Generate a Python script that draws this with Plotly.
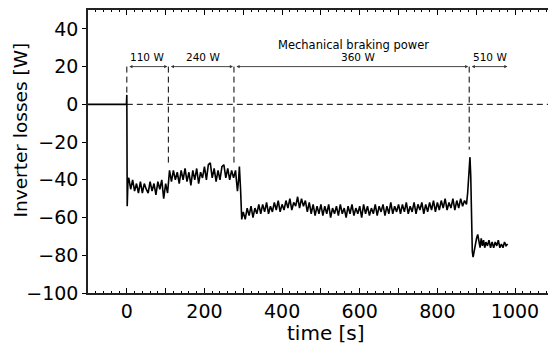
import plotly.graph_objects as go

# ---------------- data ----------------
lead_time = [-100, -1, 0, 1, 3]
lead_loss = [0, 0, 5, -54, -40]

seg1_loss = [-39, -45, -40, -46, -42, -47, -41, -47, -42, -45, -47, -41, -46, -42,
             -48, -41, -45, -40, -50, -42, -47]
seg1_start, seg1_step = 5, 5

seg2_loss = [-35, -41, -35, -40, -36, -42, -35, -40, -34, -41, -36, -43, -35, -40,
             -34, -42, -36, -39, -33, -40, -32, -31, -39, -34, -41, -35, -40, -33,
             -32, -39, -34, -40, -35, -39, -35, -46]
seg2_start, seg2_step = 110, 5

trans_time = [288, 290, 293, 296, 300]
trans_loss = [-40, -33, -45, -61, -57]

seg3_loss = [-61, -55, -59, -54, -60, -55, -58, -53,
             -58, -53, -57, -52, -58, -54, -57, -52, -56, -51, -57, -53,
             -56, -51, -55, -50, -56, -52, -54, -49,
             -55, -50, -54, -51,
             -57, -52, -58, -53, -59, -54, -58, -53,
             -59, -54, -58, -53, -60, -55, -58, -54, -59, -53, -58, -55, -60, -54,
             -58, -53, -59, -55, -58, -54, -60, -53, -58, -54, -59, -55, -58, -53,
             -59, -54, -57, -53, -59, -54, -58, -52, -58, -54, -57, -53,
             -58, -53, -57, -52, -58, -54, -57, -52, -58, -53, -56, -52, -58, -53,
             -57, -52, -56, -51, -57, -52,
             -56, -51, -55, -50, -56, -52, -55, -50, -56, -51, -55, -50, -54, -51,
             -53]
seg3_start, seg3_step = 305, 5

tail_time = [878, 880, 882, 884, 886, 888, 890, 892, 895, 898, 901, 904, 907, 910,
             913, 916, 919, 922, 925, 929, 933, 937, 941, 945, 949, 953, 957, 961,
             965, 969, 973, 977, 981]
tail_loss = [-47, -38, -30, -28, -38, -60, -78, -81, -77, -74, -71, -69, -73, -76,
             -71, -75, -72, -76, -73, -75, -72, -76, -73, -76, -73, -75, -72, -76,
             -74, -76, -73, -75, -74]

# phase boundaries and labels
boundaries = [0, 107, 276, 882, 983]
boundary_bottom = [5, -33, -31, -24]
phase_labels = ["110 W", "240 W", "360 W", "510 W"]
phase_label_x = [51, 195, 595, 935]
header_text = "Mechanical braking power"
header_x = 584

x_tickvals = [-100, 0, 100, 200, 300, 400, 500, 600, 700, 800, 900, 1000]
x_ticktext = ["", "0", "", "200", "", "400", "", "600", "", "800", "", "1000"]
y_tickvals = [-100, -80, -60, -40, -20, 0, 20, 40]

# ---------------- assemble ----------------
def seg_times(start, step, vals):
    return [start + step * i for i in range(len(vals))]

time = (lead_time + seg_times(seg1_start, seg1_step, seg1_loss)
        + seg_times(seg2_start, seg2_step, seg2_loss) + trans_time
        + seg_times(seg3_start, seg3_step, seg3_loss) + tail_time)
loss = lead_loss + seg1_loss + seg2_loss + trans_loss + seg3_loss + tail_loss

FONT = "DejaVu Sans"
XRANGE = [-100, 1085]
fig = go.Figure()
fig.add_trace(go.Scatter(x=time, y=loss, mode="lines",
                         line=dict(color="black", width=1.6), showlegend=False,
                         hoverinfo="skip"))
# carrier trace for the top (mirrored) axis
fig.add_trace(go.Scatter(x=[XRANGE[0]], y=[0], xaxis="x2", mode="lines",
                         line=dict(color="rgba(0,0,0,0)"), showlegend=False,
                         hoverinfo="skip"))

shapes = []
shapes.append(dict(type="line", xref="x", yref="y", x0=0, x1=1085, y0=0, y1=0,
                   line=dict(color="black", width=1, dash="6px,4px")))
for bx, by in zip(boundaries[:4], boundary_bottom):
    shapes.append(dict(type="line", xref="x", yref="y", x0=bx, x1=bx, y0=20, y1=by,
                       line=dict(color="black", width=1, dash="6px,4px")))

annotations = []
for i in range(4):
    annotations.append(dict(x=boundaries[i + 1], y=20, ax=boundaries[i], ay=20,
                            xref="x", yref="y", axref="x", ayref="y", text="",
                            showarrow=True, arrowhead=2, startarrowhead=2,
                            arrowside="end+start", arrowsize=0.7, arrowwidth=0.9,
                            arrowcolor="#333", standoff=1, startstandoff=1))
    annotations.append(dict(x=phase_label_x[i], y=25, xref="x", yref="y",
                            text=phase_labels[i], showarrow=False,
                            font=dict(family=FONT, size=10.5, color="black")))
annotations.append(dict(x=header_x, y=31.5, xref="x", yref="y", text=header_text,
                        showarrow=False, font=dict(family=FONT, size=11.5, color="black")))
annotations.append(dict(x=-0.1447, y=0.576, xref="paper", yref="paper",
                        text="Inverter losses [W]", textangle=-90, showarrow=False,
                        xanchor="center", yanchor="middle",
                        font=dict(family=FONT, size=18.5, color="black")))
annotations.append(dict(x=0.517, y=-0.141, xref="paper", yref="paper",
                        text="time [s]", showarrow=False, xanchor="center",
                        yanchor="middle", font=dict(family=FONT, size=20, color="black")))

minor_ticks = dict(tick0=0, dtick=20, ticks="inside", ticklen=2.5,
                   tickcolor="black", tickwidth=1, showgrid=False)

fig.update_layout(
    width=548, height=344,
    margin=dict(l=88, r=0, t=10, b=51),
    paper_bgcolor="white", plot_bgcolor="white",
    shapes=shapes, annotations=annotations,
    xaxis=dict(range=XRANGE, tickmode="array", tickvals=x_tickvals,
               ticktext=x_ticktext, ticks="inside", ticklen=5, tickwidth=1,
               tickcolor="black", showline=True, linecolor="#222", linewidth=1.5,
               mirror=False, showgrid=False, zeroline=False,
               tickfont=dict(family=FONT, size=19, color="black"),
               minor=minor_ticks),
    xaxis2=dict(range=XRANGE, overlaying="x", side="top", anchor="y",
                tickmode="array", tickvals=x_tickvals, showticklabels=False,
                ticks="inside", ticklen=5, tickwidth=1, tickcolor="black",
                showline=True, linecolor="#222", linewidth=1.5, showgrid=False,
                zeroline=False, minor=minor_ticks),
    yaxis=dict(range=[-100, 50], tickmode="array", tickvals=y_tickvals,
               ticks="outside", ticklen=4, tickwidth=1, tickcolor="black",
               showline=True, linecolor="#222", linewidth=1.5, mirror=False,
               showgrid=False, zeroline=False,
               tickfont=dict(family=FONT, size=19, color="black")),
)

fig.write_html("out.html")
